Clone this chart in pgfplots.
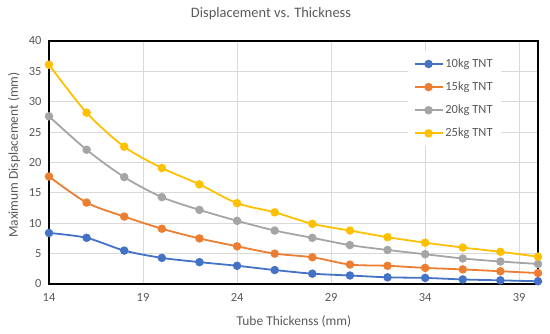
\documentclass[border=0pt]{standalone}
\usepackage{pgfplots}
\pgfplotsset{compat=1.18}
\usepackage{fontspec}
\setmainfont{Carlito}
\definecolor{cA}{HTML}{4472C4}
\definecolor{cB}{HTML}{ED7D31}
\definecolor{cC}{HTML}{A5A5A5}
\definecolor{cD}{HTML}{FFC000}
\definecolor{txt}{HTML}{595959}
\definecolor{gridc}{HTML}{D9D9D9}
\begin{document}
\begin{tikzpicture}
\path[use as bounding box] (-49bp,-50bp) rectangle (501bp,284bp);
\begin{axis}[
  at={(0,0)}, anchor=origin,
  scale only axis, width=489bp, height=243bp,
  xmin=14, xmax=40, ymin=0, ymax=40,
  xtick={14,19,24,29,34,39}, ytick={0,5,10,15,20,25,30,35,40},
  grid=major, major grid style={draw=gridc, line width=0.8pt},
  axis line style={black, line width=1.2pt},
  major tick length=0pt,
  tick label style={font=\fontsize{12.5}{14}\selectfont, text=txt},
  /pgf/number format/assume math mode=true,
  xticklabel style={yshift=-6bp},
  yticklabel style={xshift=-4bp},
  legend style={at={(0.733,0.96)}, anchor=north west, draw=none, fill=white,
    font=\fontsize{12.5}{14}\selectfont, text=txt, row sep=9bp,
    inner xsep=6bp, inner ysep=6bp},
  legend cell align=left,
  legend image code/.code={\draw[mark repeat=2,mark phase=2,#1] plot coordinates {(0bp,0bp)(14bp,0bp)(28bp,0bp)};},
  every axis plot/.append style={line width=1.8pt, smooth, tension=0.5, mark=*, mark size=3.3bp, mark options={solid}},
]
\addplot[color=cA] coordinates {(14,8.4)(16,7.6)(18,5.5)(20,4.3)(22,3.6)(24,3.0)(26,2.3)(28,1.7)(30,1.4)(32,1.1)(34,1.0)(36,0.75)(38,0.6)(40,0.45)};
\addlegendentry{10kg TNT}
\addplot[color=cB] coordinates {(14,17.7)(16,13.4)(18,11.1)(20,9.1)(22,7.5)(24,6.2)(26,5.0)(28,4.4)(30,3.2)(32,3.0)(34,2.65)(36,2.4)(38,2.1)(40,1.8)};
\addlegendentry{15kg TNT}
\addplot[color=cC] coordinates {(14,27.6)(16,22.1)(18,17.6)(20,14.3)(22,12.2)(24,10.4)(26,8.8)(28,7.6)(30,6.4)(32,5.6)(34,4.9)(36,4.2)(38,3.7)(40,3.3)};
\addlegendentry{20kg TNT}
\addplot[color=cD] coordinates {(14,36.1)(16,28.2)(18,22.6)(20,19.1)(22,16.4)(24,13.3)(26,11.8)(28,9.9)(30,8.8)(32,7.7)(34,6.8)(36,6.0)(38,5.3)(40,4.5)};
\addlegendentry{25kg TNT}
\end{axis}
\node[text=txt, font=\fontsize{14.5}{17}\selectfont] at (222bp,270bp) {Displacement vs. Thickness};
\node[text=txt, font=\fontsize{13.5}{16}\selectfont] at (245bp,-38bp) {Tube Thickenss (mm)};
\node[text=txt, font=\fontsize{13.5}{16}\selectfont, rotate=90] at (-35bp,129bp) {Maximum Displacement (mm)};
\end{tikzpicture}
\end{document}
